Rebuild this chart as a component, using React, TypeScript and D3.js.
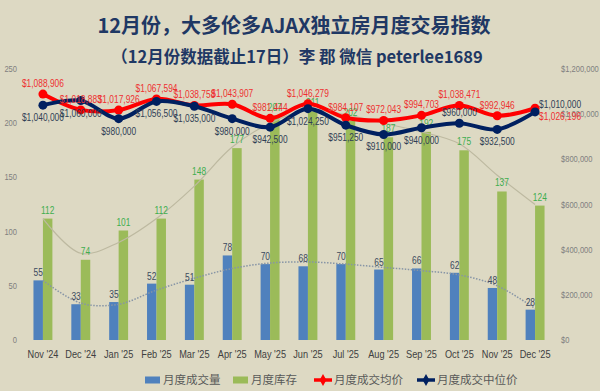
import { useEffect } from 'react';
import * as d3 from 'd3';

const months = ["Nov '24", "Dec '24", "Jan '25", "Feb '25", "Mar '25", "Apr '25", "May '25", "Jun '25", "Jul '25", "Aug '25", "Sep '25", "Oct '25", "Nov '25", "Dec '25"];
const volume = [55, 33, 35, 52, 51, 78, 70, 68, 70, 65, 66, 62, 48, 28];
const inventory = [112, 74, 101, 112, 148, 177, 207, 211, 202, 187, 192, 175, 137, 124];
const avgPrice = [1088906, 1018883, 1017926, 1067594, 1038758, 1043907, 981444, 1046279, 984107, 972043, 994703, 1038471, 992946, 1026196];
const medianPrice = [1040000, 1060000, 980000, 1056500, 1035000, 980000, 942500, 1024250, 951250, 910000, 940000, 960000, 932500, 1010000];
// trendlines as they appear in the picture
const volumeTrend = [55, 34, 33, 46, 57, 66, 71, 72, 70, 67, 64, 60, 50, 29];
const inventoryTrend = [112, 80, 90, 112, 142, 178, 200, 212, 208, 200, 192, 181, 152, 125];
const leftTicks = [0, 50, 100, 150, 200, 250];
const rightTicks = [0, 200000, 400000, 600000, 800000, 1000000, 1200000];

// where each price label sits relative to its marker
const avgLabelSide = ['t', 't', 't', 't', 't', 't', 't', 't', 't', 't', 't', 't', 't', 'r'];
const medianLabelSide = ['b', 'b', 'b', 'b', 'b', 'b', 'b', 'b', 'b', 'b', 'b', 't', 'b', 'r'];

const W = 600;
const H = 391;
const M = { left: 24, right: 46, top: 69, bottom: 51 };
const BG = '#DDD9C3';
const LABEL_FONT = "'Liberation Sans', Arial, sans-serif";
const CJK = "'Noto Sans CJK SC', 'Noto Sans', sans-serif";

// narrow text, roughly like Calibri
function Narrow(props: { x: number; y: number; size?: number; fill: string; anchor?: string; sx?: number; children: any }) {
    const sx = props.sx ?? 0.84;
    return (
        <text transform={`translate(${props.x}, ${props.y}) scale(${sx}, 1)`} textAnchor={props.anchor || 'start'}
            fontSize={props.size || 10} fill={props.fill} fontFamily={LABEL_FONT}>{props.children}</text>
    );
}

export default function App() {
    useEffect(() => {
        document.body.style.margin = '0';
        document.body.style.background = BG;
    }, []);

    const x = d3.scaleBand().domain(months).range([M.left, W - M.right]).paddingInner(0.5).paddingOuter(0.25);
    const yL = d3.scaleLinear().domain([0, 250]).range([H - M.bottom, M.top]);
    const yR = d3.scaleLinear().domain([0, 1200000]).range([H - M.bottom, M.top]);
    const bw = x.bandwidth() / 2;
    const cx = (m: string) => (x(m) as number) + x.bandwidth() / 2;
    const fmt = d3.format('$,.0f');

    const lineL = d3.line<number>().x((_, i) => cx(months[i])).y((d) => yL(d)).curve(d3.curveCatmullRom);
    const lineR = d3.line<number>().x((_, i) => cx(months[i])).y((d) => yR(d)).curve(d3.curveCatmullRom);

    const priceLabel = (v: number, i: number, side: string, color: string, key: string) => {
        const px = cx(months[i]);
        const py = yR(v);
        if (side === 'r') {
            const dy = key === 'avg' ? 12 : -4;
            return <Narrow key={key + i} x={px + 4} y={py + dy} fill={color}>{fmt(v)}</Narrow>;
        }
        const dy = side === 't' ? -7 : 16;
        return <Narrow key={key + i} x={px} y={py + dy} anchor="middle" fill={color}>{fmt(v)}</Narrow>;
    };

    const legend = [
        { name: '月度成交量', kind: 'rect', color: '#4F81BD', x: 145 },
        { name: '月度库存', kind: 'rect', color: '#9BBB59', x: 233 },
        { name: '月度成交均价', kind: 'line', color: '#FF0000', x: 314 },
        { name: '月度成交中位价', kind: 'line', color: '#002060', x: 417 }
    ];

    return (
        <div style={{ position: 'absolute', left: 0, top: 0 }}>
            <svg width={W} height={H} style={{ display: 'block', background: BG }}>
                <rect width={W} height={H} fill={BG} />

                {/* titles */}
                <text x={W / 2 - 6} y={33} textAnchor="middle" fontFamily={CJK} fontWeight="bold" fontSize={20} fill="#1F3864">12月份，大多伦多AJAX独立房月度交易指数</text>
                <text x={W / 2 - 3} y={63} textAnchor="middle" fontFamily={CJK} fontWeight="bold" fontSize={16.5} fill="#1F3864">（12月份数据截止17日）李 郡 微信 peterlee1689</text>

                {/* axes */}
                {leftTicks.map((t) => (
                    <Narrow key={'l' + t} x={17} y={yL(t) + 3} anchor="end" size={9} fill="#7F7F7F">{t}</Narrow>
                ))}
                {rightTicks.map((t) => (
                    <Narrow key={'r' + t} x={561} y={yR(t) + 3} size={9} fill="#7F7F7F">{fmt(t)}</Narrow>
                ))}
                {months.map((m) => (
                    <Narrow key={'x' + m} x={cx(m)} y={358} anchor="middle" size={10} sx={0.92} fill="#404040">{m}</Narrow>
                ))}

                {/* bars */}
                {months.map((m, i) => (
                    <g key={'b' + m}>
                        <rect x={x(m)} y={yL(volume[i])} width={bw} height={yL(0) - yL(volume[i])} fill="#4F81BD" />
                        <rect x={(x(m) as number) + bw} y={yL(inventory[i])} width={bw} height={yL(0) - yL(inventory[i])} fill="#9BBB59" />
                    </g>
                ))}

                {/* trendlines */}
                <path d={lineL(inventoryTrend) || ''} fill="none" stroke="#BDB9A0" strokeWidth={1.2} />
                <path d={lineL(volumeTrend) || ''} fill="none" stroke="#8795A6" strokeWidth={1.5} strokeDasharray="1.5,1.5" />

                {/* bar labels */}
                {months.map((m, i) => (
                    <g key={'bl' + m}>
                        <Narrow x={(x(m) as number) + bw / 2} y={yL(volume[i]) - 4} anchor="middle" fill="#3B4A5E">{volume[i]}</Narrow>
                        <Narrow x={(x(m) as number) + bw * 1.5} y={yL(inventory[i]) - 5} anchor="middle" fill="#3DAE4F">{inventory[i]}</Narrow>
                    </g>
                ))}

                {/* price lines */}
                <path d={lineR(avgPrice) || ''} fill="none" stroke="#FF0000" strokeWidth={4} />
                {avgPrice.map((v, i) => (
                    <circle key={'ac' + i} cx={cx(months[i])} cy={yR(v)} r={4.5} fill="#FF0000" />
                ))}
                <path d={lineR(medianPrice) || ''} fill="none" stroke="#002060" strokeWidth={4} />
                {medianPrice.map((v, i) => (
                    <circle key={'mc' + i} cx={cx(months[i])} cy={yR(v)} r={4.5} fill="#002060" />
                ))}
                {avgPrice.map((v, i) => priceLabel(v, i, avgLabelSide[i], '#EE3030', 'avg'))}
                {medianPrice.map((v, i) => priceLabel(v, i, medianLabelSide[i], '#2F3E55', 'med'))}

                {/* legend */}
                {legend.map((l) => (
                    <g key={l.name} transform={`translate(${l.x}, 380)`}>
                        {l.kind === 'rect'
                            ? <rect x={0} y={-3.5} width={15} height={7} fill={l.color} />
                            : <g>
                                <line x1={0} x2={18} y1={0} y2={0} stroke={l.color} strokeWidth={3.5} />
                                <path d={d3.symbol(d3.symbolDiamond, 40)() || ''} transform="translate(9,0)" fill={l.color} />
                            </g>}
                        <text x={l.kind === 'rect' ? 18 : 20} y={4} fontSize={11.5} fill="#595959" fontFamily={CJK}>{l.name}</text>
                    </g>
                ))}
            </svg>
        </div>
    );
}
